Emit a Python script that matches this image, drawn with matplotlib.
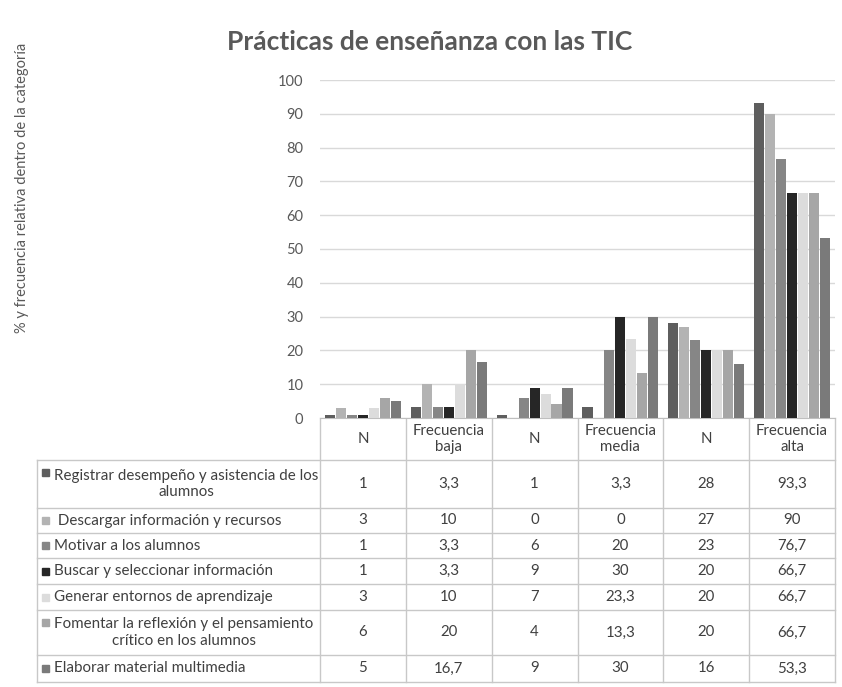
import matplotlib
matplotlib.use("Agg")
import matplotlib.pyplot as plt
import numpy as np

plt.rcParams['font.family'] = ['Lato', 'DejaVu Sans']

categories = ["N", "Frecuencia\nbaja", "N", "Frecuencia\nmedia", "N", "Frecuencia\nalta"]
series_names = [
    "Registrar desempeño y asistencia de los\nalumnos",
    " Descargar información y recursos",
    "Motivar a los alumnos",
    "Buscar y seleccionar información",
    "Generar entornos de aprendizaje",
    "Fomentar la reflexión y el pensamiento\ncrítico en los alumnos",
    "Elaborar material multimedia",
]
registrar = [1, 3.3, 1, 3.3, 28, 93.3]
descargar = [3, 10, 0, 0, 27, 90]
motivar = [1, 3.3, 6, 20, 23, 76.7]
buscar = [1, 3.3, 9, 30, 20, 66.7]
generar = [3, 10, 7, 23.3, 20, 66.7]
fomentar = [6, 20, 4, 13.3, 20, 66.7]
elaborar = [5, 16.7, 9, 30, 16, 53.3]
values = [registrar, descargar, motivar, buscar, generar, fomentar, elaborar]
colors = ["#5e5e5e", "#b3b3b3", "#868686", "#262626", "#dcdcdc", "#a6a6a6", "#7a7a7a"]
yticks = list(range(0, 101, 10))

W, H = 842, 687
fig = plt.figure(figsize=(W / 100, H / 100), dpi=100)

L, R, T, B = 320, 835, 80, 418
ax = fig.add_axes([L / W, 1 - B / H, (R - L) / W, (B - T) / H])
n = len(categories)
ns = len(values)
step = 0.128
bw = 0.118
x = np.arange(n)
for i, (vals, c) in enumerate(zip(values, colors)):
    ax.bar(x + (i - (ns - 1) / 2) * step, vals, width=bw, color=c, edgecolor='none', zorder=3)
ax.set_xlim(-0.5, n - 0.5)
ax.set_ylim(0, 100)
ax.set_yticks(yticks)
ax.set_yticklabels([str(t) for t in yticks], fontsize=10.5, color="#595959")
ax.tick_params(axis='y', length=0, pad=12)
ax.set_xticks([])
ax.grid(axis='y', color="#d9d9d9", linewidth=1, zorder=0)
for s in ['top', 'right', 'left']:
    ax.spines[s].set_visible(False)
ax.spines['bottom'].set_color("#bfbfbf")

fig.text(430 / W, 1 - 42 / H, "Prácticas de enseñanza con las TIC", ha='center', va='center',
         fontsize=19, fontweight='bold', color="#595959")
fig.text(22 / W, 1 - 188 / H, "% y frecuencia relativa dentro de la categoría", rotation=90,
         ha='center', va='center', fontsize=10.5, color="#595959")

# data table
tx = fig.add_axes([0, 0, 1, 1], zorder=-1)
tx.set_xlim(0, W)
tx.set_ylim(H, 0)
tx.axis('off')
lc = "#c8c8c8"
cw = (R - L) / n
col_edges = [L + k * cw for k in range(n + 1)]
row_edges = [460, 508, 533, 558, 584, 610, 655, 682]
tleft = 37
# header
for xe in col_edges:
    tx.plot([xe, xe], [B, row_edges[-1]], color=lc, lw=1)
for k, cat in enumerate(categories):
    tx.text(L + (k + 0.5) * cw, (B + row_edges[0]) / 2, cat, ha='center', va='center',
            fontsize=10.8, color="#404040", linespacing=1.1)
for ye in row_edges:
    tx.plot([tleft, R], [ye, ye], color=lc, lw=1)
tx.plot([tleft, tleft], [row_edges[0], row_edges[-1]], color=lc, lw=1)

def fmt(v):
    return (f"{v:g}").replace('.', ',')

for r, (name, vals, c) in enumerate(zip(series_names, values, colors)):
    yc = (row_edges[r] + row_edges[r + 1]) / 2
    twoline = "\n" in name
    ky = row_edges[r] + 12.5 if twoline else yc
    tx.add_patch(plt.Rectangle((42, ky - 3.5), 7, 7, color=c))
    tx.text(54, yc, name, ha='left', va='center', multialignment='center',
            fontsize=10.9, color="#404040", linespacing=1.25)
    for k, v in enumerate(vals):
        tx.text(L + (k + 0.5) * cw, yc, fmt(v), ha='center', va='center',
                fontsize=10.8, color="#404040")

fig.savefig("out.png", dpi=100)
